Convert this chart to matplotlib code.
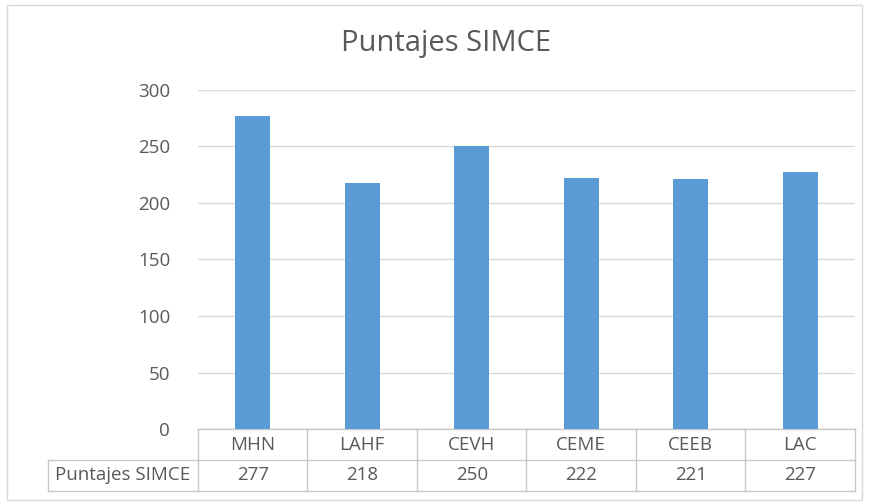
import matplotlib

matplotlib.use("Agg")
import matplotlib.pyplot as plt
import matplotlib.transforms as mtransforms
from matplotlib.patches import Rectangle

categories = ["MHN", "LAHF", "CEVH", "CEME", "CEEB", "LAC"]
scores = [277, 218, 250, 222, 221, 227]
series_name = "Puntajes SIMCE"
title = "Puntajes SIMCE"
y_ticks = [0, 50, 100, 150, 200, 250, 300]

BAR_COLOR = "#5B9BD5"
TEXT_COLOR = "#595959"
GRID_COLOR = "#D9D9D9"
TABLE_COLOR = "#C8C8C8"

plt.rcParams["font.family"] = ["Open Sans", "DejaVu Sans"]

fig = plt.figure(figsize=(8.7, 5.04), dpi=100)
W, H = 870, 504
ax = fig.add_axes([198 / W, 1 - 429 / H, 657 / W, 339 / H])

x = list(range(len(categories)))
ax.bar(x, scores, width=0.32, color=BAR_COLOR, zorder=3)
ax.set_xlim(-0.5, len(categories) - 0.5)
ax.set_ylim(0, 300)
ax.set_yticks(y_ticks)
ax.set_yticklabels([str(v) for v in y_ticks], fontsize=13.5, color=TEXT_COLOR)
ax.tick_params(axis="y", length=0, pad=20)
ax.set_xticks([])
ax.grid(axis="y", color=GRID_COLOR, linewidth=1, zorder=0)
for s in ax.spines.values():
    s.set_visible(False)

fig.text(446 / W, 1 - 44 / H, title, fontsize=21, color=TEXT_COLOR,
         ha="center", va="center")

# data table below the plot (x in data units, y in axes fraction)
trans = mtransforms.blended_transform_factory(ax.transData, ax.transAxes)
row_h = 31 / 339
left = -0.5
right = len(categories) - 0.5
label_left = -0.5 - 150 / 109.5
line_kw = dict(color=TABLE_COLOR, linewidth=1, transform=trans, clip_on=False)

ax.plot([left, right], [0, 0], **line_kw)
ax.plot([label_left, right], [-row_h, -row_h], **line_kw)
ax.plot([label_left, right], [-2 * row_h, -2 * row_h], **line_kw)
for b in [i - 0.5 for i in range(len(categories) + 1)]:
    ax.plot([b, b], [0, -2 * row_h], **line_kw)
ax.plot([label_left, label_left], [-row_h, -2 * row_h], **line_kw)

for i, (cat, val) in enumerate(zip(categories, scores)):
    ax.text(i, -0.5 * row_h, cat, transform=trans, ha="center", va="center",
            fontsize=13.5, color=TEXT_COLOR)
    ax.text(i, -1.5 * row_h, str(val), transform=trans, ha="center", va="center",
            fontsize=13.5, color=TEXT_COLOR)
ax.text((label_left + left) / 2, -1.5 * row_h, series_name, transform=trans,
        ha="center", va="center", fontsize=13.5, color=TEXT_COLOR)

# chart border
fig.patches.append(Rectangle((7 / W, 1 - 500 / H), 855 / W, 495 / H,
                             transform=fig.transFigure, fill=False,
                             edgecolor="#D9D9D9", linewidth=1))

fig.savefig("out.png", dpi=100)
